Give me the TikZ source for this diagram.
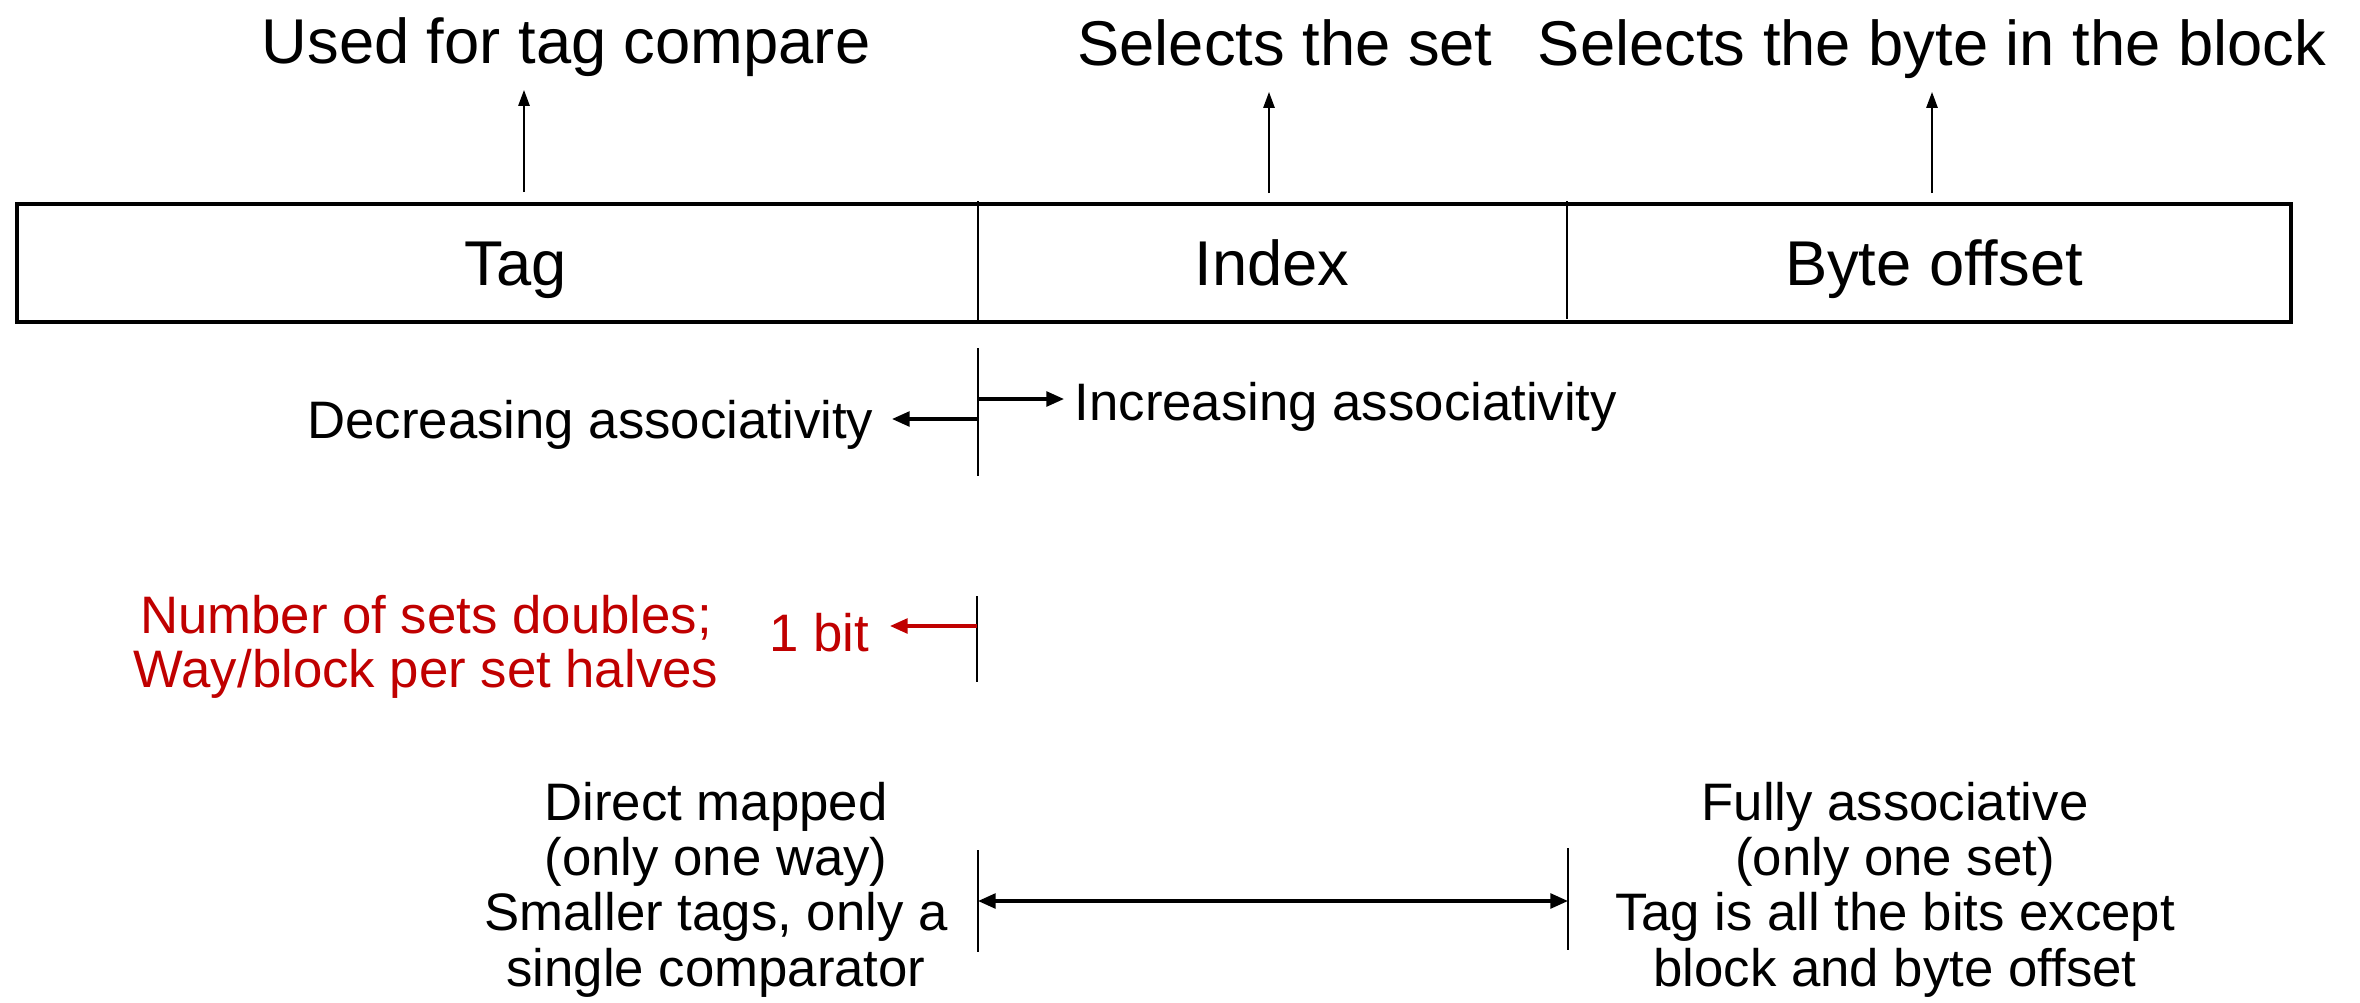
\documentclass[tikz,border=0pt]{standalone}
\usepackage{fontspec}
\setmainfont{Liberation Sans}
\usetikzlibrary{arrows.meta}
\definecolor{noteRed}{RGB}{192,0,0}

\begin{document}
\begin{tikzpicture}[x=0.01cm,y=-0.01cm,
  bigtext/.style={font=\fontsize{18}{20}\selectfont, inner sep=0pt},
  smalltext/.style={font=\fontsize{15}{15.7}\selectfont, inner sep=0pt, align=center},
  redtext/.style={font=\fontsize{15}{15.2}\selectfont, inner sep=0pt, align=center, text=noteRed},
  tipline/.style={line width=0.5pt, -{Triangle[length=4.5pt,width=3.2pt]}},
  boldtip/.style={line width=0.9pt, -{Triangle[length=5pt,width=4.2pt]}},
  fence/.style={line width=0.6pt},
]
\useasboundingbox (0,0) rectangle (2360,1003);

% address fields
\draw[line width=0.9pt] (17,204) rectangle (2291,322);
\coordinate (d1t) at (978,201); \coordinate (d1b) at (978,322);
\coordinate (d2t) at (1567,201); \coordinate (d2b) at (1567,319);
\draw[fence] (d1t) -- (d1b);
\draw[fence] (d2t) -- (d2b);

\node[bigtext, anchor=base] (tag) at (516,285) {Tag};
\node[bigtext, anchor=base] (index) at (1272,285) {Index};
\node[bigtext, anchor=base] (offset) at (1934,285) {Byte offset};

% field purposes
\node[bigtext, anchor=base] (usedfor) at (566,63) {Used for tag compare};
\node[bigtext, anchor=base] (selset) at (1285,65) {Selects the set};
\node[bigtext, anchor=base] (selbyte) at (1932,65) {Selects the byte in the block};

\coordinate (tagUp) at (524,192); \coordinate (tagTip) at (524,90);
\coordinate (idxUp) at (1269,193); \coordinate (idxTip) at (1269,92);
\coordinate (offUp) at (1932,193); \coordinate (offTip) at (1932,92);
\draw[tipline] (tagUp) -- (tagTip);
\draw[tipline] (idxUp) -- (idxTip);
\draw[tipline] (offUp) -- (offTip);

% moving the tag/index boundary
\coordinate (m1t) at (978,348); \coordinate (m1b) at (978,476);
\draw[fence] (m1t) -- (m1b);
\coordinate (incFrom) at (978,399); \coordinate (incTip) at (1064,399);
\coordinate (decFrom) at (978,419); \coordinate (decTip) at (892,419);
\node[smalltext, anchor=base west] (inc) at (1074,420) {Increasing associativity};
\node[smalltext, anchor=base east] (dec) at (874,438) {Decreasing associativity};
\draw[boldtip] (incFrom) -- (incTip);
\draw[boldtip] (decFrom) -- (decTip);

% one bit step
\coordinate (r1t) at (977,596); \coordinate (r1b) at (977,682);
\draw[fence] (r1t) -- (r1b);
\coordinate (bitFrom) at (977,626); \coordinate (bitTip) at (890,626);
\node[redtext, anchor=base east] (onebit) at (870,651) {1 bit};
\draw[boldtip, draw=noteRed, fill=noteRed] (bitFrom) -- (bitTip);
\node[redtext, anchor=base] (halves) at (426,687) {Number of sets doubles;\\Way/block per set halves};

% extremes
\coordinate (e1t) at (978,850); \coordinate (e1b) at (978,952);
\coordinate (e2t) at (1568,848); \coordinate (e2b) at (1568,950);
\draw[fence] (e1t) -- (e1b);
\draw[fence] (e2t) -- (e2b);
\coordinate (rangeL) at (978,901); \coordinate (rangeR) at (1568,901);
\draw[line width=0.9pt, {Triangle[length=5pt,width=4.2pt]}-{Triangle[length=5pt,width=4.2pt]}] (rangeL) -- (rangeR);

\node[smalltext, anchor=base] (direct) at (716,986)
  {Direct mapped\\(only one way)\\Smaller tags, only a\\single comparator};
\node[smalltext, anchor=base] (fully) at (1895,986)
  {Fully associative\\(only one set)\\Tag is all the bits except\\block and byte offset};
\end{tikzpicture}
\end{document}
